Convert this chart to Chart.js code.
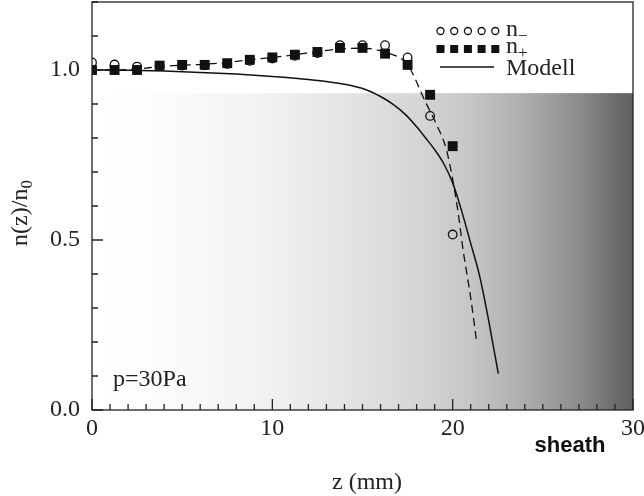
<!DOCTYPE html>
<html>
<head>
<meta charset="utf-8">
<script src="https://cdn.jsdelivr.net/npm/chart.js@4.4.1/dist/chart.umd.min.js"></script>
<style>
html,body{margin:0;padding:0;background:#fff;}
#contenitore{width:644px;height:496px;}
</style>
</head>
<body>
<div id="contenitore"><canvas id="grafico" width="644" height="496"></canvas></div>
<script>
// misure (z in mm)
var zMess=[0,1.25,2.5,3.75,5,6.25,7.5,8.75,10,11.25,12.5,13.75,15,16.25,17.5,18.75,20];
var nMinus=[1.022,1.016,1.010,1.012,1.013,1.014,1.018,1.027,1.034,1.042,1.050,1.073,1.073,1.073,1.037,0.865,0.516];
var nPlus=[1.000,1.000,1.000,1.013,1.015,1.015,1.020,1.030,1.037,1.045,1.053,1.065,1.065,1.048,1.015,0.927,0.776];
// curva tratteggiata
var zFit=[0,1.25,2.5,3.75,5,6.25,7.5,8.75,10,11.25,12.5,13.75,15,16.25,17.5,18.5,19.1,19.67,20.26,20.58,21.0,21.34];
var nFit=[1.000,1.000,1.003,1.010,1.014,1.017,1.022,1.030,1.037,1.045,1.054,1.062,1.064,1.052,1.015,0.905,0.840,0.762,0.596,0.470,0.330,0.196];
// modello
var zModell=[0,2,4,6,8,10,12,14,15.2,16,16.7,17.4,18,18.5,19,19.5,20,20.5,21,21.5,22,22.53];
var nModell=[1.000,0.999,0.997,0.993,0.988,0.981,0.972,0.958,0.942,0.922,0.899,0.868,0.833,0.800,0.766,0.725,0.668,0.585,0.490,0.393,0.262,0.107];
var xTicks=[0,10,20,30];
var yTicks=[0,0.5,1.0];

var fasciaAlto=0.932;
var serif='"Liberation Serif", serif';
var colTesto='#222';

function punti(xs,ys){
    var p=[];
    for(var i=0;i<xs.length;i++){
        p.push({x:xs[i],y:ys[i]});
    }
    return p;
}

function scriviPedice(ctx,base,pedice,x,y,abbassa){
    ctx.font='24px '+serif;
    ctx.fillText(base,x,y);
    var w=ctx.measureText(base).width;
    ctx.font='17px '+serif;
    ctx.fillText(pedice,x+w,y+abbassa);
    return w+ctx.measureText(pedice).width;
}

var decorazioni={
    id:'decorazioni',
    beforeDatasetsDraw:function(chart){
        var ctx=chart.ctx, sx=chart.scales.x, sy=chart.scales.y;
        var x0=sx.getPixelForValue(0), x1=sx.getPixelForValue(30);
        var yT=sy.getPixelForValue(fasciaAlto), yB=sy.getPixelForValue(0);
        var g=ctx.createLinearGradient(x0,0,x1,0);
        g.addColorStop(0,'#ffffff');
        g.addColorStop(0.1,'#fdfdfd');
        g.addColorStop(0.3,'#f3f3f3');
        g.addColorStop(0.45,'#e6e6e6');
        g.addColorStop(0.6,'#d6d6d6');
        g.addColorStop(0.7,'#c6c6c6');
        g.addColorStop(0.8,'#adadad');
        g.addColorStop(0.9,'#8c8c8c');
        g.addColorStop(1,'#5e5e5e');
        ctx.save();
        ctx.fillStyle=g;
        ctx.fillRect(x0,yT,x1-x0,yB-yT);
        ctx.restore();
    },
    afterDatasetsDraw:function(chart){
        var ctx=chart.ctx, a=chart.chartArea, sx=chart.scales.x, sy=chart.scales.y;
        ctx.save();
        ctx.strokeStyle=colTesto;
        ctx.lineWidth=1.3;
        ctx.strokeRect(a.left,a.top,a.right-a.left,a.bottom-a.top);
        // tacche interne
        ctx.beginPath();
        for(var i=0;i<=30;i++){
            var px=sx.getPixelForValue(i);
            var l=(i%10==0)?11:6;
            ctx.moveTo(px,a.bottom);
            ctx.lineTo(px,a.bottom-l);
        }
        for(var j=0;j<=12;j++){
            var py=sy.getPixelForValue(j/10);
            var l2=(j%5==0)?11:6;
            ctx.moveTo(a.left,py);
            ctx.lineTo(a.left+l2,py);
        }
        ctx.stroke();

        // legenda
        var lx=[440.5,454.2,467.9,481.6,495.3];
        ctx.strokeStyle='#111';
        ctx.fillStyle='#111';
        for(var k=0;k<lx.length;k++){
            ctx.beginPath();
            ctx.arc(lx[k],31,3.5,0,Math.PI*2);
            ctx.stroke();
            ctx.fillRect(lx[k]-4,45,8,8);
        }
        ctx.lineWidth=1.5;
        ctx.beginPath();
        ctx.moveTo(440,67);
        ctx.lineTo(494,67);
        ctx.stroke();

        ctx.fillStyle=colTesto;
        ctx.textAlign='left';
        ctx.textBaseline='alphabetic';
        scriviPedice(ctx,'n','\u2212',506,36,5);
        scriviPedice(ctx,'n','+',506,53,5);
        ctx.font='24px '+serif;
        ctx.fillText('Modell',506,75);

        ctx.fillText('p=30Pa',113,386);

        ctx.textAlign='center';
        ctx.fillText('z (mm)',367,489);

        ctx.font='bold 22px "Liberation Sans", sans-serif';
        ctx.fillStyle='#111';
        ctx.fillText('sheath',570,452);

        // titolo asse y
        ctx.fillStyle=colTesto;
        ctx.translate(27,213);
        ctx.rotate(-Math.PI/2);
        ctx.textAlign='left';
        ctx.font='24px '+serif;
        var w1=ctx.measureText('n(z)/n').width;
        ctx.font='17px '+serif;
        var w2=ctx.measureText('0').width;
        scriviPedice(ctx,'n(z)/n','0',-(w1+w2)/2,0,5);
        ctx.restore();
    }
};

var ctx=document.getElementById('grafico');
var grafico=new Chart(ctx,{
    type:'scatter',
    data:{
        datasets:[{
            label:'n+',
            data:punti(zMess,nPlus),
            pointStyle:'rect',
            pointRadius:7,
            pointBackgroundColor:'#111',
            pointBorderColor:'#111',
            pointBorderWidth:0,
            showLine:false,
            order:0
        },{
            label:'n-',
            data:punti(zMess,nMinus),
            pointStyle:'circle',
            pointRadius:4.3,
            pointBackgroundColor:'rgba(0,0,0,0)',
            pointBorderColor:'#111',
            pointBorderWidth:1.3,
            showLine:false,
            order:1
        },{
            label:'fit',
            data:punti(zFit,nFit),
            showLine:true,
            pointRadius:0,
            borderColor:'#111',
            borderWidth:1.3,
            borderDash:[8,5],
            cubicInterpolationMode:'monotone',
            order:2
        },{
            label:'Modell',
            data:punti(zModell,nModell),
            showLine:true,
            pointRadius:0,
            borderColor:'#111',
            borderWidth:1.5,
            cubicInterpolationMode:'monotone',
            order:3
        }]
    },
    options:{
        responsive:false,
        animation:false,
        events:[],
        layout:{autoPadding:false,padding:{top:2,right:11,bottom:0,left:0}},
        plugins:{
            legend:{display:false},
            tooltip:{enabled:false},
            title:{display:false}
        },
        scales:{
            x:{
                type:'linear',
                min:0,
                max:30,
                afterBuildTicks:function(s){ s.ticks=xTicks.map(function(v){return {value:v};}); },
                afterFit:function(s){ s.height=86; s.paddingLeft=0; s.paddingRight=0; },
                grid:{display:false,drawTicks:false,tickLength:0},
                border:{display:false},
                ticks:{
                    color:colTesto,
                    padding:4,
                    maxRotation:0,
                    autoSkip:false,
                    font:{family:'"Liberation Serif", serif',size:24},
                    callback:function(v){ return String(v); }
                }
            },
            y:{
                type:'linear',
                min:0,
                max:1.2,
                afterBuildTicks:function(s){ s.ticks=yTicks.map(function(v){return {value:v};}); },
                afterFit:function(s){ s.width=92; s.paddingTop=0; s.paddingBottom=0; },
                grid:{display:false,drawTicks:false,tickLength:0},
                border:{display:false},
                ticks:{
                    color:colTesto,
                    padding:12,
                    autoSkip:false,
                    font:{family:'"Liberation Serif", serif',size:24},
                    callback:function(v){ return Number(v).toFixed(1); }
                }
            }
        }
    },
    plugins:[decorazioni]
});
</script>
</body>
</html>
